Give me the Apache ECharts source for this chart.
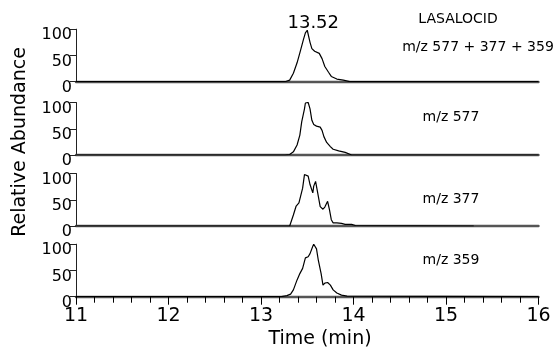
<!DOCTYPE html>
<html>
<head>
<meta charset="utf-8">
<script src="https://cdn.jsdelivr.net/npm/echarts@6/dist/echarts.min.js"></script>
<style>
  html, body { margin: 0; padding: 0; background: #fff; }
  #chart { width: 558px; height: 354px; }
</style>
</head>
<body>
<div id="chart"></div>
<script>
// time axis (min) and labels
const timeMin = 11;
const timeMax = 16;
const panelLabels = ['m/z 577 + 377 + 359', 'm/z 577', 'm/z 377', 'm/z 359'];
const compound = 'LASALOCID';
const peakLabel = '13.52';

// TIC  m/z 577 + 377 + 359
const t1 = [11, 13.26, 13.31, 13.35, 13.39, 13.42, 13.46, 13.48, 13.50, 13.53, 13.55, 13.58, 13.63, 13.66, 13.69, 13.73, 13.76, 13.82, 13.89, 13.96, 16];
const v1 = [0, 0, 3, 16, 36, 55, 81, 93, 98, 75, 63, 58, 54, 44, 29, 18, 10, 5, 3, 0, 0];
// m/z 577
const t2 = [11, 13.26, 13.31, 13.35, 13.39, 13.42, 13.44, 13.47, 13.48, 13.51, 13.53, 13.55, 13.57, 13.60, 13.64, 13.66, 13.68, 13.71, 13.75, 13.78, 13.84, 13.91, 13.98, 16];
const v2 = [0, 0, 1, 6, 19, 38, 63, 88, 99, 100, 88, 66, 58, 55, 53, 47, 35, 24, 16, 11, 8, 5, 0, 0];
// m/z 377
const t3 = [11, 13.31, 13.35, 13.38, 13.41, 13.43, 13.45, 13.47, 13.49, 13.51, 13.53, 13.56, 13.57, 13.59, 13.61, 13.64, 13.67, 13.69, 13.72, 13.74, 13.76, 13.78, 13.82, 13.84, 13.87, 13.91, 13.98, 14.02, 14.03, 15.3];
const v3 = [0, 0, 21, 38, 44, 47, 72, 98, 100, 95, 79, 63, 76, 85, 66, 37, 32, 36, 47, 31, 12, 6, 6, 8, 5, 3, 3, 1, 0, 0];
// m/z 359
const t4 = [11, 13.22, 13.28, 13.32, 13.35, 13.39, 13.42, 13.45, 13.48, 13.51, 13.53, 13.56, 13.57, 13.60, 13.62, 13.65, 13.67, 13.69, 13.72, 13.75, 13.78, 13.82, 13.87, 13.93, 13.94, 16];
const v4 = [0, 0, 2, 5, 13, 32, 44, 54, 74, 76, 82, 96, 100, 91, 69, 44, 22, 26, 27, 22, 13, 7, 3, 1, 0, 0];

const traces = [[t1, v1], [t2, v2], [t3, v3], [t4, v4]];

const font = 'DejaVu Sans';
const tops = [29.2, 102.5, 173.5, 244.2];
const panelH = 52.5;
const labelY = [19, 47, 117, 199, 260];

const pairs = (t, v) => t.map((x, i) => [x, v[i]]);

const grids = tops.map(top => ({left: 76, width: 462.5, top: top, height: panelH}));

const xAxes = tops.map((top, i) => {
    const last = i === tops.length - 1;
    return {
        type: 'value',
        gridIndex: i,
        min: timeMin,
        max: timeMax,
        interval: 1,
        axisLine: {show: true, lineStyle: {color: '#555', width: 2.4}},
        axisTick: {show: last, length: 8, lineStyle: {color: '#000', width: 1}},
        minorTick: {show: last, splitNumber: 5, length: 6, lineStyle: {color: '#000', width: 1}},
        axisLabel: {show: last, margin: 10, color: '#000', fontSize: 19, fontFamily: font},
        splitLine: {show: false}
    };
});

const yAxes = tops.map((top, i) => ({
    type: 'value',
    gridIndex: i,
    min: 0,
    max: 100,
    interval: 50,
    axisLine: {show: true, lineStyle: {color: '#222', width: 1}},
    axisTick: {show: true, length: 6, lineStyle: {color: '#222', width: 1}},
    axisLabel: {
        margin: 4, color: '#000', fontSize: 16, fontFamily: font,
        verticalAlign: 'top', lineHeight: 12
    },
    splitLine: {show: false}
}));

const series = traces.map(([t, v], i) => {
    const s = {
        type: 'line',
        xAxisIndex: i,
        yAxisIndex: i,
        data: pairs(t, v),
        showSymbol: false,
        symbol: 'none',
        lineStyle: {color: '#000', width: 1.2},
        animation: false
    };
    if (i === 0) {
        s.markPoint = {
            symbol: 'circle',
            symbolSize: 1,
            itemStyle: {color: 'rgba(0,0,0,0)'},
            data: [{type: 'max'}],
            label: {
                show: true, formatter: peakLabel, position: 'top', distance: 0,
                offset: [6, 3], color: '#000', fontSize: 18, fontFamily: font
            },
            animation: false
        };
    }
    return s;
});

const txt = (text, x, y, size, extra) => Object.assign({
    type: 'text',
    x: x,
    y: y,
    style: {
        text: text, fill: '#000', fontSize: size, fontFamily: font,
        font: size + 'px "' + font + '"',
        textAlign: 'center', textVerticalAlign: 'middle',
        align: 'center', verticalAlign: 'middle'
    }
}, extra || {});

const graphic = [
    txt(compound, 458, labelY[0], 14),
    txt(panelLabels[0], 478, labelY[1], 14),
    txt(panelLabels[1], 451, labelY[2], 14),
    txt(panelLabels[2], 451, labelY[3], 14),
    txt(panelLabels[3], 451, labelY[4], 14),
    txt('Time (min)', 320, 339, 19),
    txt('Relative Abundance', 20, 142, 19, {rotation: Math.PI / 2})
];

const chart = echarts.init(document.getElementById('chart'));
chart.setOption({
    animation: false,
    grid: grids,
    xAxis: xAxes,
    yAxis: yAxes,
    series: series,
    graphic: graphic
});
</script>
</body>
</html>
